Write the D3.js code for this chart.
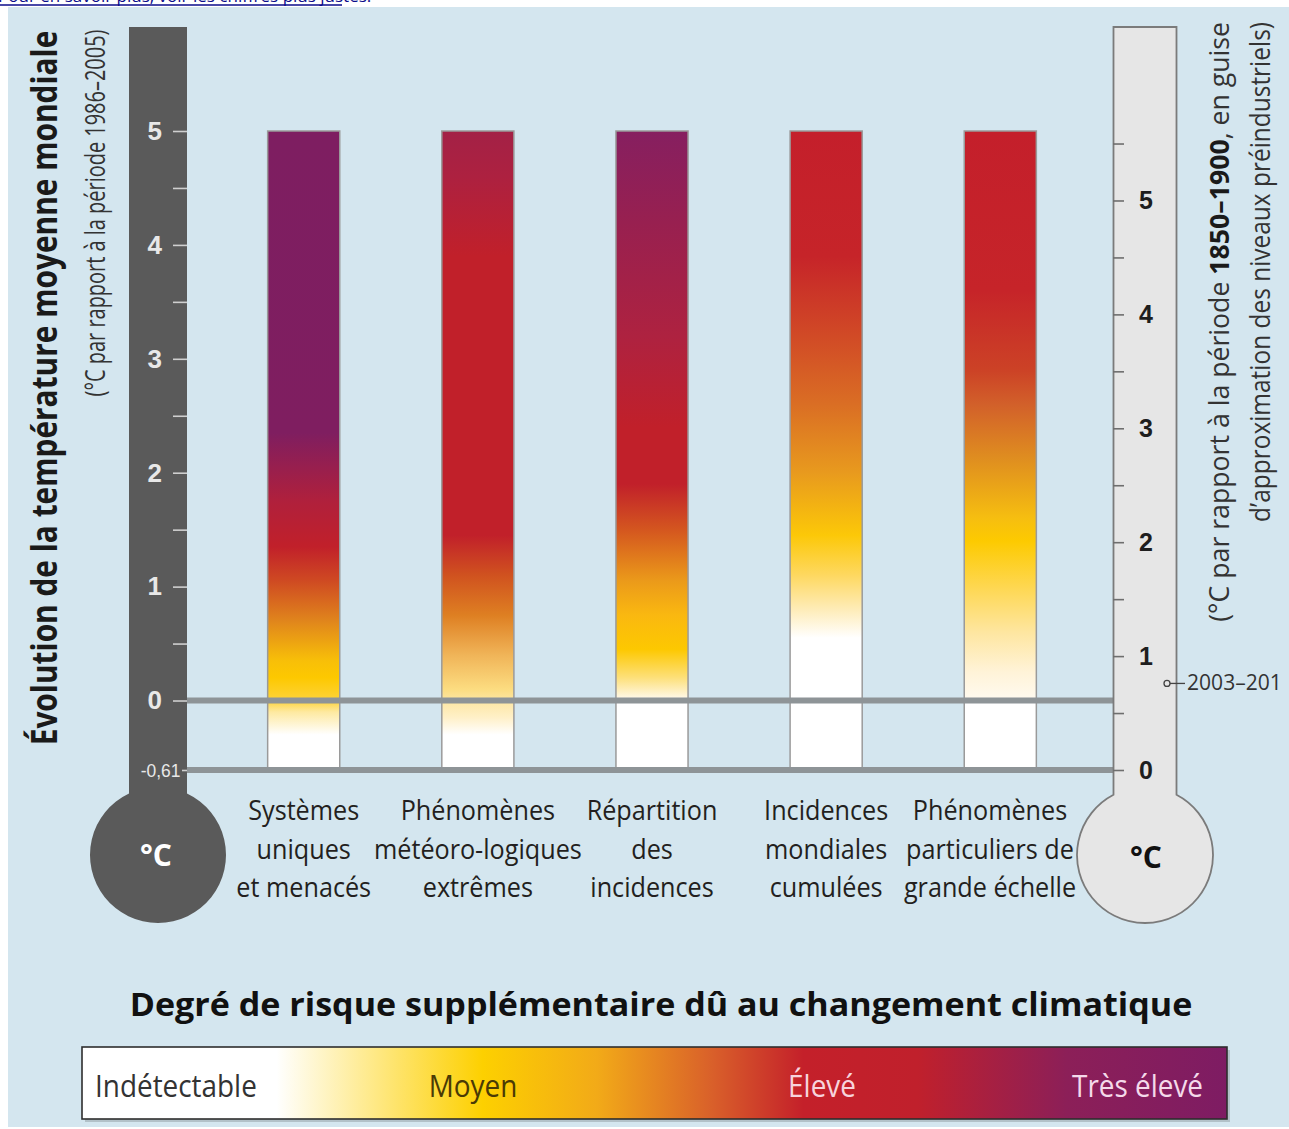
<!DOCTYPE html>
<html>
<head>
<meta charset="utf-8">
<script src="https://cdn.jsdelivr.net/npm/d3@7"></script>
<style>
  body { margin: 0; background: #fff; }
  svg { display: block; font-family: "Open Sans", "Noto Sans", sans-serif; }
</style>
</head>
<body>
<svg width="1289" height="1129"></svg>
<script>
// ---- data ----
var categories = ['uniques', 'meteo', 'repartition', 'cumulees', 'grande'];
var categoryLines = [
    ['Systèmes', 'uniques', 'et menacés'],
    ['Phénomènes', 'météoro-logiques', 'extrêmes'],
    ['Répartition', 'des', 'incidences'],
    ['Incidences', 'mondiales', 'cumulées'],
    ['Phénomènes', 'particuliers de', 'grande échelle']
];
// colour of each bar along the left scale (°C vs 1986–2005), top to bottom
var riskStops = [
    [[5, '#7e1e61'], [2.35, '#7f1e60'], [1.75, '#b0203c'], [1.35, '#c1202a'], [1.05, '#cf4a22'], [0.7, '#e0851c'], [0.35, '#f8bf08'], [0.2, '#fdc800'], [0, '#fdd33a'], [-0.1, '#fee9a0'], [-0.3, '#ffffff'], [-0.61, '#ffffff']],
    [[5, '#a32146'], [4.6, '#ad2140'], [3.9, '#c1202a'], [1.45, '#c1202a'], [1.1, '#d0521f'], [0.75, '#de7f22'], [0.4, '#f0b458'], [0.1, '#fcdc80'], [0, '#fde6a2'], [-0.15, '#fff0c8'], [-0.3, '#ffffff'], [-0.61, '#ffffff']],
    [[5, '#861f60'], [4.2, '#982050'], [3.2, '#ae2240'], [2.4, '#c1202a'], [1.9, '#c1202a'], [1.5, '#d4561f'], [1.05, '#eb9a1a'], [0.75, '#fab810'], [0.45, '#fdc800'], [0.2, '#fde07a'], [0.02, '#fff8e8'], [0, '#ffffff'], [-0.61, '#ffffff']],
    [[5, '#c41f2b'], [3.9, '#c62429'], [3.2, '#d14a26'], [2.6, '#da6e24'], [2.0, '#e89a1e'], [1.45, '#fcc808'], [1.1, '#fed860'], [0.8, '#feecb8'], [0.55, '#ffffff'], [-0.61, '#ffffff']],
    [[5, '#c41f2b'], [3.6, '#c62429'], [2.9, '#cc4226'], [2.6, '#d2602a'], [2.1, '#e0901f'], [1.6, '#f6be10'], [1.4, '#fdca00'], [1.0, '#fed750'], [0.6, '#fee6a0'], [0.25, '#fff3d8'], [0, '#fffaf0'], [-0.02, '#ffffff'], [-0.61, '#ffffff']]
];
var barTop = 5;
var barBottom = -0.61;
var leftTicks = [0, 1, 2, 3, 4, 5];
var leftMinorTicks = [0.5, 1.5, 2.5, 3.5, 4.5];
var baselineOffset = 0.61;   // 1986–2005 relative to 1850–1900
var rightTicks = [0, 1, 2, 3, 4, 5];
var rightMinorTicks = [0.5, 1.5, 2.5, 3.5, 4.5, 5.5];
var observedWarming = 0.76;
var observedLabel = '2003–201';
var legendLabels = ['Indétectable', 'Moyen', 'Élevé', 'Très élevé'];
var legendStops = [[0, '#ffffff'], [0.17, '#ffffff'], [0.35, '#fdd000'], [0.45, '#f2aa18'], [0.55, '#d9602a'], [0.63, '#c4202a'], [0.73, '#c0202c'], [0.86, '#8c1f58'], [1, '#7e1c63']];

var svg = d3.select('svg');
var defs = svg.append('defs');

// scales
var yLeft = d3.scaleLinear().domain([barBottom, barTop]).range([770, 131]);
var yRight = d3.scaleLinear()
    .domain([barBottom + baselineOffset, barTop + baselineOffset])
    .range([770, 131]);
var xBand = d3.scaleBand().domain(categories)
    .range([198, 1106]).paddingInner(0.586).paddingOuter(0.4);

// horizontal squeeze of a text so it looks like the condensed face of the original
function squeezed(parent, x, y, angle, size, weight, anchor, fill, width, k) {
    var g = parent.append('g');
    var t = g.append('text')
        .attr('text-anchor', anchor)
        .style('font-size', size + 'px')
        .style('font-weight', weight)
        .attr('fill', fill);
    t.fit = function () {
        var s = width ? width / this.node().getComputedTextLength() : k;
        g.attr('transform', `translate(${x},${y}) rotate(${angle}) scale(${s},1)`);
        return this;
    };
    return t;
}

// panel + link line on top
svg.append('text').attr('x', -2).attr('y', 2)
    .style('font-size', '17px').attr('fill', '#0b0b8a')
    .text('Pour en savoir plus, voir les chiffres plus justes.');
svg.append('line').attr('x1', 0).attr('x2', 342).attr('y1', 5).attr('y2', 5)
    .attr('stroke', '#0b0b8a').attr('stroke-width', 1.3);
svg.append('rect').attr('x', 8).attr('y', 7).attr('width', 1281).attr('height', 1120)
    .attr('fill', '#d4e6ef');

// bars
categories.forEach(function (c, i) {
    var grad = defs.append('linearGradient').attr('id', 'risk' + i)
        .attr('gradientUnits', 'userSpaceOnUse')
        .attr('x1', 0).attr('x2', 0).attr('y1', yLeft(barTop)).attr('y2', yLeft(barBottom));
    var span = yLeft(barBottom) - yLeft(barTop);
    grad.selectAll('stop').data(riskStops[i]).enter().append('stop')
        .attr('offset', d => (yLeft(d[0]) - yLeft(barTop)) / span)
        .attr('stop-color', d => d[1]);
});

svg.append('g').selectAll('rect').data(categories).enter().append('rect')
    .attr('x', d => xBand(d))
    .attr('width', xBand.bandwidth())
    .attr('y', yLeft(barTop))
    .attr('height', yLeft(barBottom) - yLeft(barTop))
    .attr('fill', (d, i) => `url(#risk${i})`)
    .attr('stroke', '#9a9a9a')
    .attr('stroke-width', 1.5);

// reference lines at 0 and -0,61
svg.append('g').selectAll('line').data([0, barBottom]).enter().append('line')
    .attr('x1', 187).attr('x2', 1113)
    .attr('y1', d => yLeft(d)).attr('y2', d => yLeft(d))
    .attr('stroke', '#8e9497').attr('stroke-width', 6);

// thermometers
function thermo(cx, w, top, cy, r) {
    var yi = cy - Math.sqrt(r * r - w * w);
    return `M${cx - w},${yi} L${cx - w},${top} L${cx + w},${top} L${cx + w},${yi} A${r},${r} 0 1 1 ${cx - w},${yi} Z`;
}
svg.append('path').attr('d', thermo(158, 29, 27, 855, 68)).attr('fill', '#5a5a5a');
svg.append('path').attr('d', thermo(1145, 31.5, 27, 855, 68))
    .attr('fill', '#e6e6e6').attr('stroke', '#7b7b7b').attr('stroke-width', 1.8);

svg.append('text').attr('x', 156).attr('y', 866).attr('text-anchor', 'middle')
    .style('font-size', '30px').style('font-weight', 700).attr('fill', '#fff').text('°C');
svg.append('text').attr('x', 1146).attr('y', 868).attr('text-anchor', 'middle')
    .style('font-size', '30px').style('font-weight', 700).attr('fill', '#111').text('°C');

// left axis (inside the dark thermometer)
var leftAxis = svg.append('g').attr('transform', 'translate(187,0)')
    .call(d3.axisLeft(yLeft).tickValues(leftTicks).tickSize(14).tickPadding(11).tickFormat(d3.format('d')));
var leftMinor = svg.append('g').attr('transform', 'translate(187,0)')
    .call(d3.axisLeft(yLeft).tickValues(leftMinorTicks).tickSize(14).tickFormat(''));
var leftLow = svg.append('g').attr('transform', 'translate(187,0)')
    .call(d3.axisLeft(yLeft).tickValues([barBottom]).tickSize(5).tickPadding(2).tickFormat(d => String(d).replace('.', ',')));
[leftAxis, leftMinor, leftLow].forEach(function (a) {
    a.select('.domain').remove();
    a.selectAll('line').attr('stroke', '#cfcfcf').attr('stroke-width', 1.6);
    a.selectAll('text').attr('fill', '#e8e8e8').style('font-size', '26px').style('font-weight', 600)
        .attr('font-family', null);
});
leftLow.selectAll('text').style('font-size', '19px').style('font-weight', 400).attr('dy', '0.35em')
    .attr('transform', 'scale(0.92,1)');

// right axis (inside the light thermometer)
var rightAxis = svg.append('g').attr('transform', 'translate(1113,0)')
    .call(d3.axisRight(yRight).tickValues(rightTicks).tickSize(11).tickPadding(15).tickFormat(d3.format('d')));
var rightMinor = svg.append('g').attr('transform', 'translate(1113,0)')
    .call(d3.axisRight(yRight).tickValues(rightMinorTicks).tickSize(11).tickFormat(''));
[rightAxis, rightMinor].forEach(function (a) {
    a.select('.domain').remove();
    a.selectAll('line').attr('stroke', '#6e6e6e').attr('stroke-width', 1.6);
    a.selectAll('text').attr('fill', '#1e1e1e').style('font-size', '25px').style('font-weight', 600)
        .attr('font-family', null);
});

// 2003–2012 observed warming marker
var obsY = yRight(observedWarming);
svg.append('circle').attr('cx', 1167).attr('cy', obsY).attr('r', 3)
    .attr('fill', 'none').attr('stroke', '#444').attr('stroke-width', 1.3);
svg.append('line').attr('x1', 1170).attr('x2', 1185).attr('y1', obsY).attr('y2', obsY)
    .attr('stroke', '#444').attr('stroke-width', 1.3);
squeezed(svg, 1187, obsY + 7, 0, 21, 400, 'start', '#333', 95).text(observedLabel).fit();

// axis titles
squeezed(svg, 57, 388, -90, 35, 700, 'middle', '#1a1a1a', 715)
    .text('Évolution de la température moyenne mondiale').fit();
squeezed(svg, 105, 213, -90, 27, 400, 'middle', '#333', 367)
    .text('(°C par rapport à la période 1986–2005)').fit();
var r1 = squeezed(svg, 1229, 22, -90, 27, 400, 'end', '#333', 600);
r1.append('tspan').text('(°C par rapport à la période ');
r1.append('tspan').style('font-weight', 700).attr('fill', '#1a1a1a').text('1850–1900');
r1.append('tspan').text(', en guise');
r1.fit();
squeezed(svg, 1270, 22, -90, 27, 400, 'end', '#333', 500)
    .text('d’approximation des niveaux préindustriels)').fit();

// category labels (the last column is nudged left, clear of the bulb)
categories.forEach(function (c, i) {
    var cx = Math.min(xBand(c) + xBand.bandwidth() / 2, 990);
    categoryLines[i].forEach(function (line, j) {
        squeezed(svg, cx, 820 + j * 38.5, 0, 28, 400, 'middle', '#231f20', null, 0.9).text(line).fit();
    });
});

// risk legend
squeezed(svg, 661, 1016, 0, 32, 700, 'middle', '#111', 1063)
    .text('Degré de risque supplémentaire dû au changement climatique').fit();

var lg = defs.append('linearGradient').attr('id', 'legendGrad');
lg.selectAll('stop').data(legendStops).enter().append('stop')
    .attr('offset', d => d[0]).attr('stop-color', d => d[1]);
var box = { x: 82, y: 1047, w: 1145, h: 72 };
svg.append('rect').attr('x', box.x + 3).attr('y', box.y + 3).attr('width', box.w).attr('height', box.h)
    .attr('fill', '#8a959a').attr('opacity', 0.45);
svg.append('rect').attr('x', box.x).attr('y', box.y).attr('width', box.w).attr('height', box.h)
    .attr('fill', 'url(#legendGrad)').attr('stroke', '#2e2e2e').attr('stroke-width', 1.6);

var legendPos = [
    { x: box.x + 13, anchor: 'start', fill: '#333' },
    { x: 473, anchor: 'middle', fill: '#4a3a05' },
    { x: 822, anchor: 'middle', fill: '#f7d3dc' },
    { x: box.x + box.w - 24, anchor: 'end', fill: '#f4d9ea' }
];
legendLabels.forEach(function (l, i) {
    var p = legendPos[i];
    squeezed(svg, p.x, 1097, 0, 31, 400, p.anchor, p.fill, null, 0.9).text(l).fit();
});
</script>
</body>
</html>
